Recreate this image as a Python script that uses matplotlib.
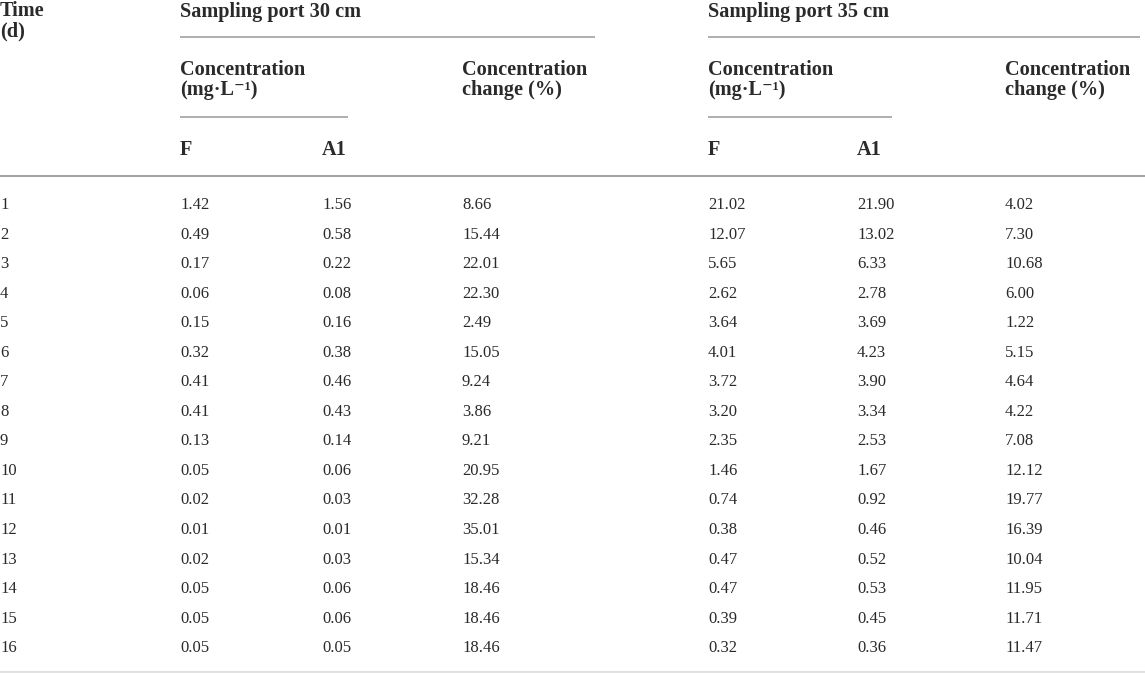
import matplotlib
matplotlib.use("Agg")
import matplotlib.pyplot as plt

# ---- data ----
time_d = [1, 2, 3, 4, 5, 6, 7, 8, 9, 10, 11, 12, 13, 14, 15, 16]
f_30 = [1.42, 0.49, 0.17, 0.06, 0.15, 0.32, 0.41, 0.41, 0.13, 0.05, 0.02, 0.01, 0.02, 0.05, 0.05, 0.05]
a1_30 = [1.56, 0.58, 0.22, 0.08, 0.16, 0.38, 0.46, 0.43, 0.14, 0.06, 0.03, 0.01, 0.03, 0.06, 0.06, 0.05]
chg_30 = [8.66, 15.44, 22.01, 22.30, 2.49, 15.05, 9.24, 3.86, 9.21, 20.95, 32.28, 35.01, 15.34, 18.46, 18.46, 18.46]
f_35 = [21.02, 12.07, 5.65, 2.62, 3.64, 4.01, 3.72, 3.20, 2.35, 1.46, 0.74, 0.38, 0.47, 0.47, 0.39, 0.32]
a1_35 = [21.90, 13.02, 6.33, 2.78, 3.69, 4.23, 3.90, 3.34, 2.53, 1.67, 0.92, 0.46, 0.52, 0.53, 0.45, 0.36]
chg_35 = [4.02, 7.30, 10.68, 6.00, 1.22, 5.15, 4.64, 4.22, 7.08, 12.12, 19.77, 16.39, 10.04, 11.95, 11.71, 11.47]

group_titles = ["Sampling port 30 cm", "Sampling port 35 cm"]
conc_title = ["Concentration", "(mg\u00b7L\u207b\u00b9)"]
change_title = ["Concentration", "change (%)"]
time_title = ["Time", "(d)"]
sub_cols = ["F", "A1"]

W, H = 1145, 673
fig = plt.figure(figsize=(W / 100, H / 100), dpi=100)
ax = fig.add_axes([0, 0, 1, 1])
ax.set_xlim(0, W)
ax.set_ylim(H, 0)
ax.axis("off")

FAM = ["Liberation Serif", "DejaVu Serif"]
TXT = "#2a2a2a"
HDR_FS = 14.6
DATA_FS = 12

def t(x, y, s, bold=False, fs=None):
    ax.text(x, y, s, family=FAM, fontsize=fs or (HDR_FS if bold else DATA_FS),
            fontweight="bold" if bold else "normal", color=TXT,
            ha="left", va="baseline")

# header
t(0, 16.5, time_title[0], bold=True)
t(0, 36, time_title[1], bold=True)

groups = [
    dict(x0=180, xa=322, xc=462, x1=595, xline2=348, f=f_30, a=a1_30, c=chg_30),
    dict(x0=708, xa=857, xc=1005, x1=1140, xline2=892, f=f_35, a=a1_35, c=chg_35),
]
line_col = "#a8a8a8"
for g, title in zip(groups, group_titles):
    t(g["x0"], 16.5, title, bold=True)
    ax.plot([g["x0"], g["x1"]], [37, 37], color=line_col, lw=1.3, solid_capstyle="butt")
    t(g["x0"], 75, conc_title[0], bold=True)
    t(g["x0"], 95.5, conc_title[1], bold=True)
    t(g["xc"], 75, change_title[0], bold=True)
    t(g["xc"], 95.5, change_title[1], bold=True)
    ax.plot([g["x0"], g["xline2"]], [117, 117], color=line_col, lw=1.3, solid_capstyle="butt")
    t(g["x0"], 155, sub_cols[0], bold=True)
    t(g["xa"], 155, sub_cols[1], bold=True)

ax.plot([0, W], [175.5, 175.5], color="#9a9a9a", lw=1.3, solid_capstyle="butt")
ax.plot([0, W], [671.5, 671.5], color="#e2e2e2", lw=1.5, solid_capstyle="butt")

# body
y0, dy = 209, 29.55
for i, d in enumerate(time_d):
    y = y0 + i * dy
    t(0, y, str(d))
    for g in groups:
        t(g["x0"], y, f"{g['f'][i]:.2f}")
        t(g["xa"], y, f"{g['a'][i]:.2f}")
        t(g["xc"], y, f"{g['c'][i]:.2f}")

fig.savefig("out.png", dpi=100, facecolor="white")
